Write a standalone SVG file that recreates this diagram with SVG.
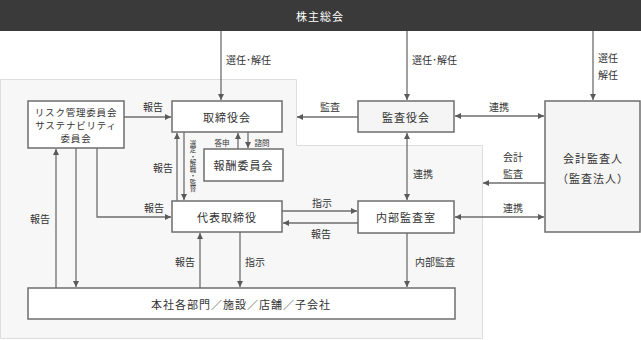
<svg xmlns="http://www.w3.org/2000/svg" width="641" height="340" viewBox="0 0 641 340">
<style>
text{font-family:"Noto Sans CJK JP","Noto Sans CJK SC",sans-serif;fill:#333;}
.box{fill:#fff;stroke:#6e6e6e;stroke-width:1.5;}
.gbox{fill:#f5f5f5;stroke:#6e6e6e;stroke-width:1.5;}
.t{font-size:11px;text-anchor:middle;dominant-baseline:central;letter-spacing:1px;}
.r{font-size:9.5px;text-anchor:middle;dominant-baseline:central;letter-spacing:0.8px;}
.l{font-size:10px;dominant-baseline:central;}
.s{font-size:7.5px;dominant-baseline:central;}
.c{fill:none;stroke:#6e6e6e;stroke-width:1.3;}
</style>
<defs>
<marker id="ah" markerUnits="userSpaceOnUse" markerWidth="7" markerHeight="7" refX="6" refY="3" orient="auto-start-reverse">
<path d="M0,0 L6,3 L0,6 z" fill="#5a5a5a"/>
</marker>
</defs>
<path d="M0.5,79.5 H296.5 V145.5 H482.5 V338.5 H0.5 Z" fill="#f7f7f7" stroke="#dedede" stroke-width="1"/>
<g id="shareholders">
<rect x="0" y="0" width="641" height="31" fill="#3a3a3a"/>
<text x="320" y="16" class="t" style="fill:#fff">株主総会</text>
</g>
<g id="risk">
<rect x="28" y="101" width="96" height="47" class="box"/>
<text x="76" y="111.5" class="r">リスク管理委員会</text>
<text x="76" y="124.5" class="r">サステナビリティ</text>
<text x="76" y="137.5" class="r">委員会</text>
</g>
<g id="board">
<rect x="172" y="101" width="110" height="31" class="box"/>
<text x="227" y="116.5" class="t">取締役会</text>
</g>
<g id="comp">
<rect x="204" y="149" width="79" height="32" class="box"/>
<text x="243.5" y="165" class="t">報酬委員会</text>
</g>
<g id="ceo">
<rect x="172" y="201" width="110" height="31" class="box"/>
<text x="227" y="216.5" class="t">代表取締役</text>
</g>
<g id="kansayaku">
<rect x="358" y="101" width="96" height="31" class="gbox"/>
<text x="406" y="116.5" class="t">監査役会</text>
</g>
<g id="naibu">
<rect x="358" y="201" width="96" height="32" class="box"/>
<text x="406" y="217" class="t">内部監査室</text>
</g>
<g id="auditor">
<rect x="545" y="101" width="95" height="131" class="gbox"/>
<text x="593" y="158" class="t">会計監査人</text>
<text x="593" y="178" class="t">（監査法人）</text>
</g>
<g id="honsha">
<rect x="28" y="288" width="427" height="31" class="box"/>
<text x="241" y="303.5" class="t">本社各部門／施設／店舗／子会社</text>
</g>
<g id="connectors">
<path class="c" d="M221,31 V100" marker-end="url(#ah)"/>
<path class="c" d="M407,31 V100" marker-end="url(#ah)"/>
<path class="c" d="M593,31 V100" marker-end="url(#ah)"/>
<path class="c" d="M124,117 H171" marker-end="url(#ah)"/>
<path class="c" d="M358,117 H297" marker-end="url(#ah)"/>
<path class="c" d="M455,116 H544" marker-start="url(#ah)" marker-end="url(#ah)"/>
<path class="c" d="M407,133 V200" marker-start="url(#ah)" marker-end="url(#ah)"/>
<path class="c" d="M545,183 H483" marker-end="url(#ah)"/>
<path class="c" d="M455,217 H544" marker-start="url(#ah)" marker-end="url(#ah)"/>
<path class="c" d="M282,211 H357" marker-end="url(#ah)"/>
<path class="c" d="M358,223 H283" marker-end="url(#ah)"/>
<path class="c" d="M407,233 V287" marker-end="url(#ah)"/>
<path class="c" d="M240,232 V287" marker-end="url(#ah)"/>
<path class="c" d="M200,288 V233" marker-end="url(#ah)"/>
<path class="c" d="M76,148 V287" marker-end="url(#ah)"/>
<path class="c" d="M56,288 V149" marker-end="url(#ah)"/>
<path class="c" d="M97,148 V217 H171" marker-end="url(#ah)"/>
<path class="c" d="M177,201 V133" marker-end="url(#ah)"/>
<path class="c" d="M184,132 V200" marker-end="url(#ah)"/>
<path class="c" d="M238,149 V133" marker-end="url(#ah)"/>
<path class="c" d="M248,132 V148" marker-end="url(#ah)"/>
</g>
<g id="labels">
<text x="226" y="59" class="l">選任･解任</text>
<text x="412" y="59" class="l">選任･解任</text>
<text x="598" y="57" class="l">選任</text>
<text x="598" y="74" class="l">解任</text>
<text x="153" y="106" class="l" text-anchor="middle">報告</text>
<text x="330" y="106" class="l" text-anchor="middle">監査</text>
<text x="499" y="106" class="l" text-anchor="middle">連携</text>
<text x="423" y="173" class="l" text-anchor="middle">連携</text>
<text x="513" y="156" class="l" text-anchor="middle">会計</text>
<text x="513" y="173" class="l" text-anchor="middle">監査</text>
<text x="513" y="207" class="l" text-anchor="middle">連携</text>
<text x="163" y="167" class="l" text-anchor="middle">報告</text>
<text x="154" y="207" class="l" text-anchor="middle">報告</text>
<text x="40" y="218" class="l" text-anchor="middle">報告</text>
<text x="322" y="202" class="l" text-anchor="middle">指示</text>
<text x="321" y="233" class="l" text-anchor="middle">報告</text>
<text x="185" y="261" class="l" text-anchor="middle">報告</text>
<text x="255" y="261" class="l" text-anchor="middle">指示</text>
<text x="435" y="261" class="l" text-anchor="middle">内部監査</text>
<text x="222" y="142" class="s" text-anchor="middle">答申</text>
<text x="262" y="142" class="s" text-anchor="middle">諮問</text>
<text x="193" y="140" class="s" style="writing-mode:vertical-rl;text-orientation:upright;font-size:6.5px" text-anchor="start">選定・解職・監督</text>
</g>
</svg>
